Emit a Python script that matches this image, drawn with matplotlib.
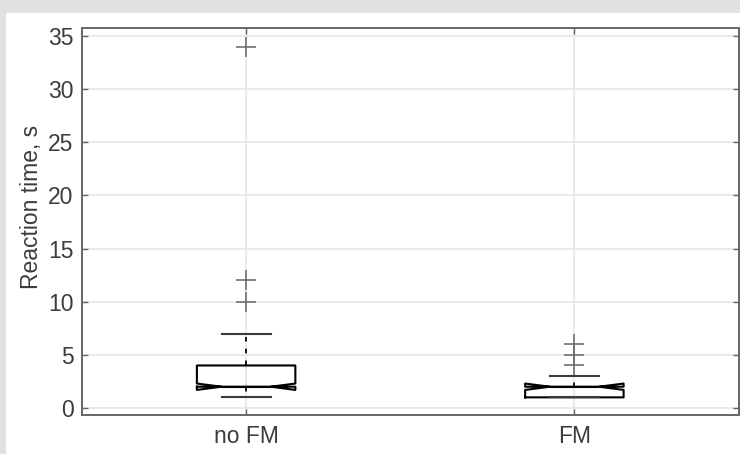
import matplotlib.pyplot as plt
from matplotlib.patches import Rectangle

plt.rcParams['font.family'] = ['Liberation Sans', 'DejaVu Sans']

groups = ['no FM', 'FM']
q1 = [2, 1]
med = [2, 2]
q3 = [4, 2]
whis_lo = [1, 1]
whis_hi = [7, 3]
ci_lo = [1.7, 1.7]
ci_hi = [2.3, 2.3]
outliers = [[10, 12, 34], [4, 5, 6]]
yticks = [0, 5, 10, 15, 20, 25, 30, 35]

stats = []
for i, g in enumerate(groups):
    stats.append(dict(label=g, med=med[i], q1=q1[i], q3=q3[i],
                      whislo=whis_lo[i], whishi=whis_hi[i],
                      cilo=ci_lo[i], cihi=ci_hi[i], fliers=outliers[i]))

fig = plt.figure(figsize=(7.4, 4.54), dpi=100)
fig.patch.set_facecolor('#e1e1e1')
# white panel behind the axes, grey border strip on top and left
fig.add_artist(Rectangle((6 / 740, 0), 1, (454 - 13) / 454,
                         transform=fig.transFigure, facecolor='white',
                         edgecolor='none', zorder=-10))

ax = fig.add_axes([82 / 740, 1 - 415 / 454, 656.5 / 740, (415 - 28) / 454])
ax.set_facecolor('white')

ax.bxp(stats, positions=[1, 2], widths=0.3, shownotches=True,
       boxprops=dict(color='black', linewidth=1.5),
       medianprops=dict(color='black', linewidth=1.5),
       whiskerprops=dict(color='black', linewidth=1.3, linestyle=(0, (2.5, 4))),
       capprops=dict(color='#3a3a3a', linewidth=1.5),
       flierprops=dict(marker='+', markersize=15, markeredgecolor='#707070',
                       markeredgewidth=1.2, linestyle='none'))

ax.set_xlim(0.5, 2.5)
ax.set_ylim(-0.66, 35.75)
ax.set_yticks(yticks)
ax.set_xticks([1, 2])
ax.set_xticklabels(groups)

ax.set_axisbelow(True)
ax.grid(True, color='#e6e6e6', linewidth=1.2)

for s in ax.spines.values():
    s.set_color('#666666')
    s.set_linewidth(1.4)

ax.tick_params(direction='in', length=4, width=1, color='#666666',
               top=True, right=True, labelsize=16.5, labelcolor='#3c3c3c')
ax.tick_params(axis='y', pad=6)
ax.tick_params(axis='x', pad=7)

ax.set_ylabel('Reaction time, s', fontsize=16.5, color='#3c3c3c', labelpad=4)
ax.yaxis.label.set_y(0.537)

fig.savefig('out.png', dpi=100, facecolor=fig.get_facecolor())
